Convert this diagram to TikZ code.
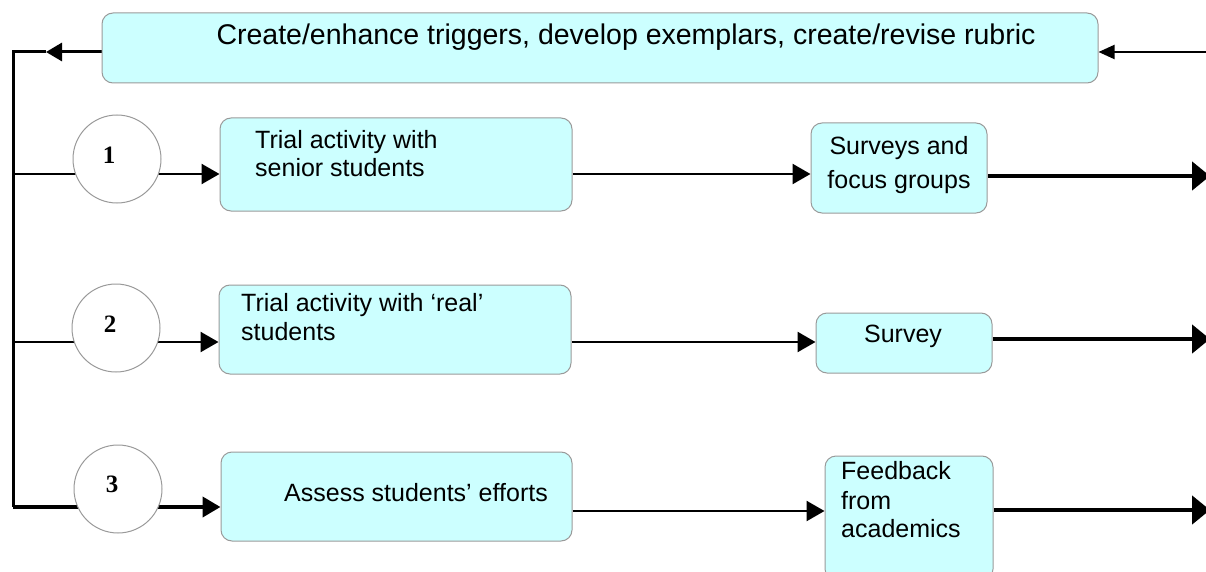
\documentclass[tikz,border=0pt]{standalone}
\usepackage{fontspec}
\setmainfont{Liberation Sans}
\newfontfamily\numfont{Liberation Serif}
\usetikzlibrary{arrows.meta,backgrounds}
\definecolor{boxfill}{HTML}{CCFFFF}
\definecolor{boxline}{HTML}{9A9A9A}
\begin{document}
\begin{tikzpicture}[x=1pt,y=-1pt,
  boxnode/.style={draw=boxline,fill=boxfill,rounded corners=11pt,line width=1pt,inner sep=0pt},
  circnode/.style={circle,draw=boxline,fill=white,line width=1pt,minimum size=88pt,inner sep=0pt},
  txt/.style={font=\fontsize{25}{29}\selectfont,inner sep=0pt},
  numtxt/.style={font=\numfont\bfseries\fontsize{25}{25}\selectfont,inner sep=0pt},
  thinline/.style={line width=2.5pt,-{Triangle[length=18pt,width=20pt]}},
  thickline/.style={line width=4.5pt,-{Triangle[length=18pt,width=28pt]}},
]
\useasboundingbox (0,0) rectangle (1206,572);
\clip (0,0) rectangle (1206,572);

% boxes
\node[boxnode,minimum width=996pt,minimum height=70pt] (top) at (600,48) {};
\node[boxnode,minimum width=352pt,minimum height=93pt] (b1) at (396,164.5) {};
\node[boxnode,minimum width=176pt,minimum height=90pt] (s1) at (899,168) {};
\node[boxnode,minimum width=352pt,minimum height=89pt] (b2) at (395,329.5) {};
\node[boxnode,minimum width=176pt,minimum height=60pt] (s2) at (904,343) {};
\node[boxnode,minimum width=351pt,minimum height=89pt] (b3) at (396.5,496.5) {};
\node[boxnode,minimum width=168pt,minimum height=124pt] (fb) at (909,518) {};

% circles
\node[circnode] (c1) at (117,159) {};
\node[circnode] (c2) at (116,328) {};
\node[circnode] (c3) at (118,489) {};
\node[numtxt] (n1) at (109,155) {1};
\node[numtxt] (n2) at (110,324) {2};
\node[numtxt] (n3) at (112,484) {3};

% texts
\node[txt,font=\fontsize{28.5}{33}\selectfont,anchor=base] (ttop) at (626,45) {Create/enhance triggers, develop exemplars, create/revise rubric};
\node[txt,anchor=base west] (t1a) at (255,149) {Trial activity with};
\node[txt,anchor=base west] (t1b) at (255,177) {senior students};
\node[txt,anchor=base] (ts1a) at (899,155) {Surveys and};
\node[txt,anchor=base] (ts1b) at (899,189) {focus groups};
\node[txt,anchor=base west] (t2a) at (241,311) {Trial activity with ‘real’};
\node[txt,anchor=base west] (t2b) at (241,340) {students};
\node[txt,anchor=base] (ts2) at (903,342) {Survey};
\node[txt,anchor=base] (t3) at (416,501) {Assess students’ efforts};
\node[txt,anchor=base west] (tf1) at (841,479) {Feedback};
\node[txt,anchor=base west] (tf2) at (841,509) {from};
\node[txt,anchor=base west] (tf3) at (841,537) {academics};

% coordinates
\coordinate (r0) at (1206,52);
\coordinate (L0) at (13,52);
\coordinate (m0) at (46,52);
\coordinate (v1) at (13,174);
\coordinate (v2) at (13,342);
\coordinate (v3) at (13,507);
\coordinate (e1) at (1210,176);
\coordinate (e2) at (1210,339);
\coordinate (e3) at (1210,510);

\begin{scope}[on background layer]
  % feedback loop
  \draw[line width=2pt,-{Triangle[length=16pt,width=14pt]}] (r0) -- (r0 -| top.east);
  \draw[line width=3pt,-{Triangle[length=16pt,width=18pt]}] (top.west |- L0) -- (m0);
  \draw[line width=3pt] (m0) -- (L0) -- (v3);
  % row 1
  \draw[thinline] (v1) -- (v1 -| b1.west);
  \draw[thinline] (b1.east |- v1) -- (v1 -| s1.west);
  \draw[thickline] (s1.east |- e1) -- (e1);
  % row 2
  \draw[thinline] (v2) -- (v2 -| b2.west);
  \draw[thinline] (b2.east |- v2) -- (v2 -| s2.west);
  \draw[thickline] (s2.east |- e2) -- (e2);
  % row 3
  \draw[line width=4pt,-{Triangle[length=18pt,width=20pt]}] (v3) -- (v3 -| b3.west);
  \draw[thinline] (b3.east |- 0,511) -- (fb.west |- 0,511);
  \draw[thickline] (fb.east |- e3) -- (e3);
\end{scope}
\end{tikzpicture}
\end{document}
